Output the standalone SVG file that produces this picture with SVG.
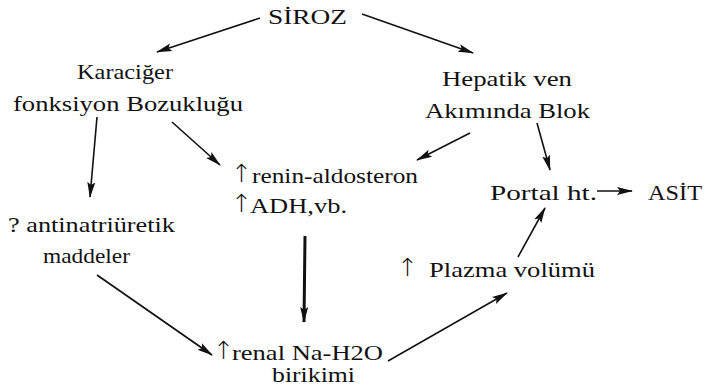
<svg xmlns="http://www.w3.org/2000/svg" width="708" height="391" viewBox="0 0 708 391" font-family="'Liberation Serif', 'Times New Roman', serif">
<defs>
<style>
text{font-family:"Liberation Serif","Times New Roman",serif;font-size:21px;fill:#111;}
.ar{font-family:"DejaVu Sans",sans-serif;font-size:25px;font-weight:300;}
.c line{stroke:#111;stroke-width:1.6;fill:none;}
.c line.thick{stroke-width:3;}
</style>
<marker id="ah" markerUnits="userSpaceOnUse" markerWidth="16" markerHeight="10" viewBox="0 0 16 10" refX="15" refY="5" orient="auto">
<path d="M0,1 L16,5 L0,9 L3,5 Z" fill="#111"/>
</marker>
</defs>
<rect width="708" height="391" fill="#fff"/>
<g id="siroz"><text x="268" y="24" textLength="79" lengthAdjust="spacingAndGlyphs">SİROZ</text></g>
<g id="karaciger">
<text x="77" y="79" textLength="96" lengthAdjust="spacingAndGlyphs">Karaciğer</text>
<text x="13" y="111" textLength="230" lengthAdjust="spacingAndGlyphs">fonksiyon Bozukluğu</text>
</g>
<g id="hepatik">
<text x="442" y="86" textLength="130" lengthAdjust="spacingAndGlyphs">Hepatik ven</text>
<text x="425" y="118" textLength="165" lengthAdjust="spacingAndGlyphs">Akımında Blok</text>
</g>
<g id="renin">
<text class="ar" x="231" y="182">↑</text>
<text x="252" y="183" textLength="166" lengthAdjust="spacingAndGlyphs">renin-aldosteron</text>
<text class="ar" x="231" y="212">↑</text>
<text x="250" y="213" textLength="97" lengthAdjust="spacingAndGlyphs">ADH,vb.</text>
</g>
<g id="antinatriuretik">
<text x="8" y="232" textLength="167" lengthAdjust="spacingAndGlyphs">? antinatriüretik</text>
<text x="43" y="263" textLength="87" lengthAdjust="spacingAndGlyphs">maddeler</text>
</g>
<g id="portal"><text x="490" y="200" textLength="107" lengthAdjust="spacingAndGlyphs">Portal ht.</text></g>
<g id="asit"><text x="648" y="200" textLength="54" lengthAdjust="spacingAndGlyphs">ASİT</text></g>
<g id="plazma">
<text class="ar" x="397" y="276">↑</text>
<text x="429" y="277" textLength="166" lengthAdjust="spacingAndGlyphs">Plazma volümü</text>
</g>
<g id="renal">
<text class="ar" x="213" y="359">↑</text>
<text x="232" y="360" textLength="151" lengthAdjust="spacingAndGlyphs">renal Na-H2O</text>
<text x="272" y="382" textLength="83" lengthAdjust="spacingAndGlyphs">birikimi</text>
</g>
<g id="connectors" class="c">
<line x1="260" y1="18" x2="157" y2="52" marker-end="url(#ah)"/>
<line x1="362" y1="14" x2="473" y2="53" marker-end="url(#ah)"/>
<line x1="97" y1="117" x2="90" y2="197" marker-end="url(#ah)"/>
<line x1="172" y1="122" x2="220" y2="165" marker-end="url(#ah)"/>
<line x1="470" y1="133" x2="417" y2="160" marker-end="url(#ah)"/>
<line x1="537" y1="123" x2="550" y2="170" marker-end="url(#ah)"/>
<line class="thick" x1="305" y1="236" x2="304" y2="322" marker-end="url(#ah)"/>
<line x1="97" y1="275" x2="212" y2="355" marker-end="url(#ah)"/>
<line x1="388" y1="361" x2="507" y2="293" marker-end="url(#ah)"/>
<line x1="518" y1="257" x2="545" y2="208" marker-end="url(#ah)"/>
<line x1="597" y1="191" x2="632" y2="191" marker-end="url(#ah)"/>
</g>
</svg>
